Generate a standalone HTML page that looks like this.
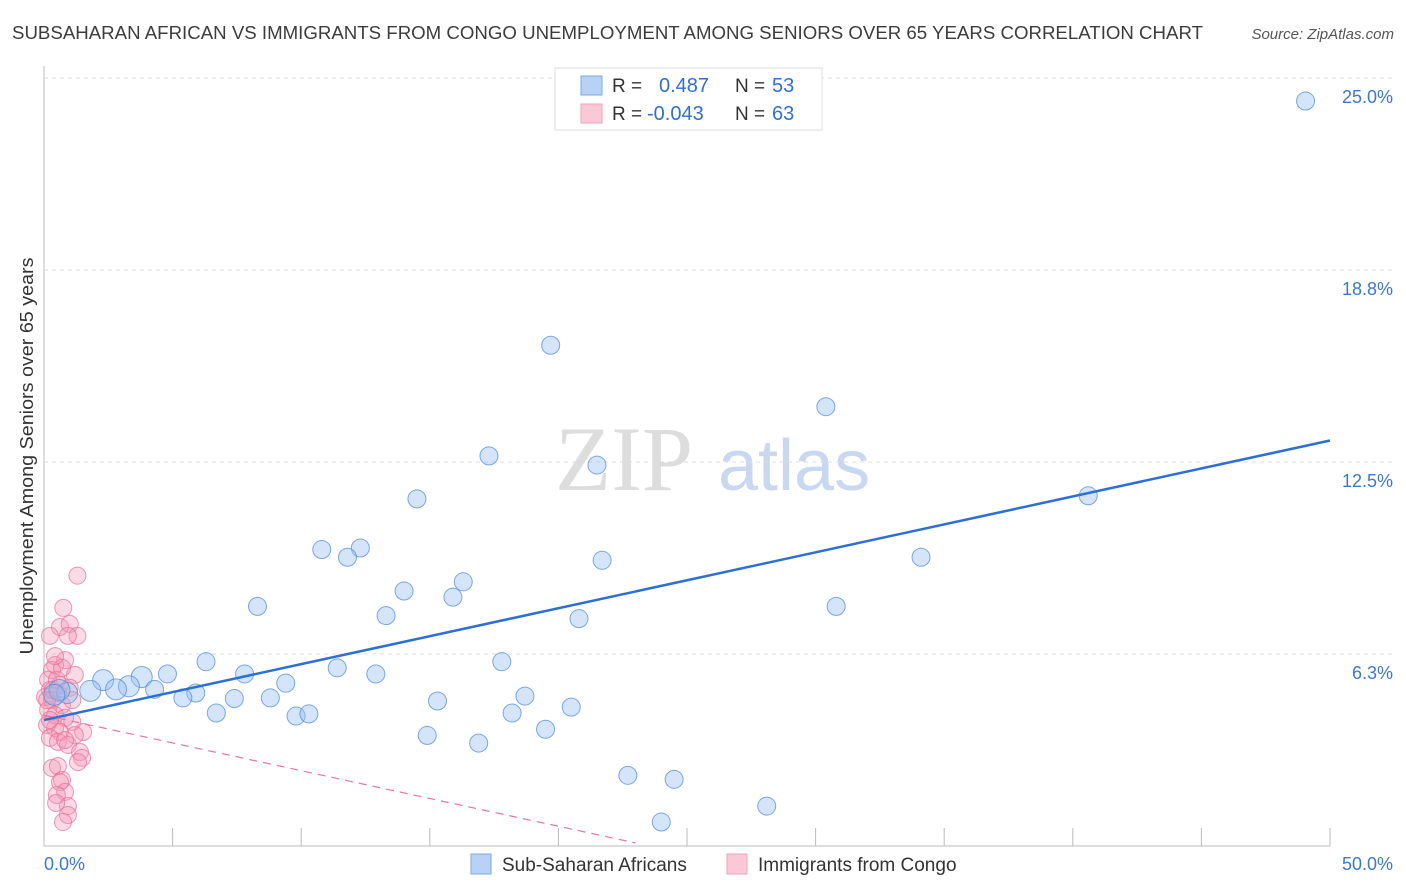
<!DOCTYPE html>
<html><head><meta charset="utf-8"><style>
body{margin:0;background:#fff;font-family:"Liberation Sans",sans-serif;}
svg{display:block}
</style></head><body>
<svg id="chart" width="1406" height="892" xmlns="http://www.w3.org/2000/svg">
<text x="12" y="39" font-size="18" fill="#3c3c3c" textLength="1191" lengthAdjust="spacingAndGlyphs">SUBSAHARAN AFRICAN VS IMMIGRANTS FROM CONGO UNEMPLOYMENT AMONG SENIORS OVER 65 YEARS CORRELATION CHART</text>
<text x="1394" y="39" font-size="15" fill="#555" text-anchor="end" font-style="italic">Source: ZipAtlas.com</text>
<text transform="translate(33,456) rotate(-90)" font-size="18" fill="#333" text-anchor="middle" textLength="397" lengthAdjust="spacingAndGlyphs">Unemployment Among Seniors over 65 years</text>
<g><text x="555" y="490" font-size="92" fill="#ddd" font-family="Liberation Serif,serif">ZIP</text><text x="718" y="490" font-size="72" fill="#c8d8f0">atlas</text></g>
<g id="grid"></g><g id="pink"></g><g id="blue"></g><g id="lines"></g>
<g>
<rect x="555" y="68" width="267" height="62" fill="#fff" stroke="#ddd"/>
<rect x="581" y="76" width="21" height="19" fill="#b8d2f4" stroke="#7aa8e6"/>
<rect x="581" y="104" width="21" height="19" fill="#fbc8d8" stroke="#f0a0b8"/>
<text x="612" y="92" font-size="19" fill="#333">R =</text><text x="659" y="92" font-size="20" fill="#2f6fd6">0.487</text>
<text x="735" y="92" font-size="19" fill="#333">N =</text><text x="772" y="92" font-size="20" fill="#2f6fd6">53</text>
<text x="612" y="120" font-size="19" fill="#333">R =</text><text x="647" y="120" font-size="20" fill="#2f6fd6">-0.043</text>
<text x="735" y="120" font-size="19" fill="#333">N =</text><text x="772" y="120" font-size="20" fill="#2f6fd6">63</text>
</g>
<g>
<rect x="471" y="854" width="20" height="20" fill="#b8d2f4" stroke="#7aa8e6"/>
<text x="502" y="871" font-size="19" fill="#333">Sub-Saharan Africans</text>
<rect x="727" y="854" width="20" height="20" fill="#fbc8d8" stroke="#f0a0b8"/>
<text x="758" y="871" font-size="19" fill="#333">Immigrants from Congo</text>
</g>
</svg>
<script>
const yTicks=[6.25,12.5,18.75,25];
const yTickLabels=["6.3%","12.5%","18.8%","25.0%"];
const xTickLabels=["0.0%","50.0%"];
const blueX=[49.05,19.7,30.4,17.3,21.5,14.5,40.6,12.3,21.7,10.8,11.8,34.1,16.3,14.0,15.9,8.3,30.8,13.3,20.8,6.3,17.8,11.4,4.8,7.8,12.9,3.8,9.4,2.3,3.3,2.8,4.3,1.8,0.9,0.6,5.9,5.4,7.4,8.8,15.3,18.7,20.5,6.7,9.8,10.3,18.2,14.9,16.9,19.5,22.7,24.5,28.1,24.0,0.4];
const blueY=[24.25,16.3,14.3,12.7,12.4,11.3,11.4,9.7,9.3,9.65,9.4,9.4,8.6,8.3,8.1,7.8,7.8,7.5,7.4,6.0,6.0,5.8,5.6,5.6,5.6,5.5,5.3,5.4,5.2,5.1,5.1,5.05,4.98,5.08,4.98,4.82,4.8,4.82,4.72,4.88,4.52,4.33,4.23,4.3,4.33,3.6,3.35,3.8,2.3,2.17,1.3,0.78,4.92];
const pinkX=[1.3,0.75,0.62,1.0,1.3,0.93,0.23,0.82,0.43,0.31,1.2,0.16,0.62,1.0,0.23,0.54,0.04,0.31,0.7,0.16,0.43,0.82,1.1,0.12,0.43,0.62,1.52,1.2,0.23,0.54,0.93,1.4,1.48,1.32,0.31,0.54,0.7,0.62,0.82,0.5,0.93,0.47,0.93,0.74,0.23,0.35,0.5,0.7,0.12,0.43,1.1,0.82];
const pinkY=[8.8,7.75,7.13,7.23,6.84,6.84,6.84,6.05,5.89,5.73,5.57,5.41,5.24,5.15,5.08,4.98,4.85,4.75,4.59,4.43,4.26,4.17,4.04,3.94,3.84,3.71,3.71,3.61,3.52,3.39,3.29,3.06,2.87,2.73,2.54,2.6,2.15,2.08,1.76,1.66,1.3,1.4,1.01,0.78,4.1,5.08,5.41,5.8,4.75,6.18,4.75,3.45];
const blueFit=[4.1,13.2];
const pinkFit=[4.26,0.1,23];
const NS="http://www.w3.org/2000/svg";
const X0=44,X1=1330,Y0=846,Y1=78;
const sx=v=>X0+(v/50)*(X1-X0), sy=v=>Y0-(v/25)*(Y0-Y1);
function mk(tag,at,parent){const e=document.createElementNS(NS,tag);for(const k in at)e.setAttribute(k,at[k]);document.getElementById(parent).appendChild(e);return e;}
let a=mk('line',{x1:X0,y1:66,x2:X0,y2:Y0,stroke:'#bbb'},'grid');


let xa=mk('line',{x1:X0,y1:Y0,x2:X1,y2:Y0,stroke:'#bbb'},'grid');


for(let i=1;i<=10;i++){const t=mk('line',{x1:X0+i*(X1-X0)/10,y1:Y0-18,x2:X0+i*(X1-X0)/10,y2:Y0,stroke:'#bbb'},'grid');

}
yTicks.forEach((v,i)=>{const g=mk('line',{x1:X0,y1:sy(v),x2:1394,y2:sy(v),stroke:'#ddd','stroke-dasharray':'4,4'},'grid');


const t=mk('text',{x:1393,y:sy(v)+25,'font-size':18,fill:'#3a78d8','text-anchor':'end'},'grid');t.textContent=yTickLabels[i];

});
xTickLabels.forEach((l,i)=>{const t=mk('text',{x:i?1393:44,y:870,'font-size':18,fill:'#3a78d8','text-anchor':i?'end':'start'},'grid');t.textContent=l;

});
pinkX.forEach((v,i)=>{const c=mk('circle',{cx:sx(v),cy:sy(pinkY[i]),r:8.5,fill:'rgba(244,150,180,0.35)',stroke:'rgba(232,110,150,0.7)','stroke-width':1},'pink');

});
blueX.forEach((v,i)=>{const c=mk('circle',{cx:sx(v),cy:sy(blueY[i]),r:(v<4?10.5:9),fill:'rgba(150,190,240,0.4)',stroke:'rgba(80,140,220,0.75)','stroke-width':1},'blue');

});
const bl=mk('line',{x1:sx(0),y1:sy(blueFit[0]),x2:sx(50),y2:sy(blueFit[1]),stroke:'#2a70d6','stroke-width':2.5},'lines');


const pl=mk('line',{x1:sx(0),y1:sy(pinkFit[0]),x2:sx(pinkFit[2]),y2:sy(pinkFit[1]),stroke:'#e8789a','stroke-width':1.2,'stroke-dasharray':'8,6'},'lines');


</script>
</body></html>
